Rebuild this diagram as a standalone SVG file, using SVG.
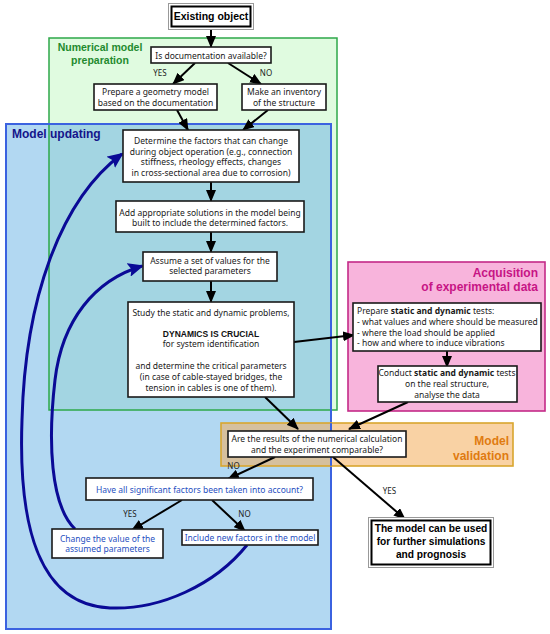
<svg xmlns="http://www.w3.org/2000/svg" width="550" height="634" viewBox="0 0 550 634">
<style>
.t{font-family:"Noto Sans","Open Sans",sans-serif;font-size:8.5px;fill:#1a1a1a;text-anchor:middle}
.tl{text-anchor:start}
.bl{fill:#1f4fbf}
.lab{font-family:"Noto Sans","Open Sans",sans-serif;font-size:8px;fill:#222;text-anchor:middle}
.hb{font-family:"Liberation Sans",Arial,sans-serif;font-weight:bold}
.box{fill:#fff;stroke:#1a1a1a;stroke-width:1.6}
.con{fill:none;stroke:#000;stroke-width:2}
.loop{fill:none;stroke:#0a0a96;stroke-width:3}
</style>
<defs>
<marker id="ah" viewBox="0 0 12 10" refX="11" refY="5" markerWidth="12" markerHeight="10" markerUnits="userSpaceOnUse" orient="auto">
<path d="M0,0 L12,5 L0,10 z" fill="#000"/>
</marker>
<marker id="bh" viewBox="0 0 16 14" refX="14" refY="7" markerWidth="16" markerHeight="14" markerUnits="userSpaceOnUse" orient="auto">
<path d="M0,0 L16,7 L0,14 L3,7 z" fill="#0a0a96"/>
</marker>
</defs>

<g id="regions">
<rect x="49" y="38" width="288" height="372" fill="#e0fbe0"/>
<rect x="6" y="124" width="325" height="505" fill="#b2d8f2"/>
<rect x="49" y="124" width="282" height="286" fill="#a3d5e2"/>
<rect x="221" y="423" width="292" height="43" fill="#f9d2a4"/>
<rect x="221" y="423" width="110" height="43" fill="#d6c09e"/>
<rect x="348" y="262" width="197" height="149" fill="#f8b4dc" stroke="#c42a88" stroke-width="1.6"/>
<rect x="49" y="38" width="288" height="372" fill="none" stroke="#2ea84a" stroke-width="1.5"/>
<rect x="6" y="124" width="325" height="505" fill="none" stroke="#3b62e0" stroke-width="2"/>
<rect x="221" y="423" width="292" height="43" fill="none" stroke="#d9a62e" stroke-width="1.6"/>
<line x1="331" y1="423" x2="331" y2="466" stroke="#3b62e0" stroke-width="1.5"/>
<text class="hb" x="100" y="51" font-size="10.5" fill="#238a2e" text-anchor="middle">Numerical model</text>
<text class="hb" x="100" y="64" font-size="10.5" fill="#238a2e" text-anchor="middle">preparation</text>
<text class="hb" x="12" y="138" font-size="12" fill="#14148a">Model updating</text>
<text class="hb" x="538" y="277" font-size="12" fill="#c71585" text-anchor="end">Acquisition</text>
<text class="hb" x="538" y="291" font-size="12" fill="#c71585" text-anchor="end">of experimental data</text>
<text class="hb" x="509" y="445" font-size="12" fill="#e07b10" text-anchor="end">Model</text>
<text class="hb" x="509" y="460" font-size="12" fill="#e07b10" text-anchor="end">validation</text>
</g>

<g id="connectors">
<line class="con" x1="211" y1="29" x2="211" y2="47" marker-end="url(#ah)"/>
<line class="con" x1="195" y1="63" x2="173" y2="84" marker-end="url(#ah)"/>
<line class="con" x1="228" y1="63" x2="261" y2="84" marker-end="url(#ah)"/>
<line class="con" x1="177" y1="110" x2="188" y2="130" marker-end="url(#ah)"/>
<line class="con" x1="268" y1="110" x2="243" y2="130" marker-end="url(#ah)"/>
<line class="con" x1="211" y1="182" x2="211" y2="201" marker-end="url(#ah)"/>
<line class="con" x1="211" y1="232" x2="211" y2="252" marker-end="url(#ah)"/>
<line class="con" x1="211" y1="281" x2="211" y2="302" marker-end="url(#ah)"/>
<line class="con" x1="294" y1="342" x2="354" y2="335" marker-end="url(#ah)"/>
<line class="con" x1="447" y1="351" x2="447" y2="367" marker-end="url(#ah)"/>
<line class="con" x1="265" y1="397" x2="298" y2="429" marker-end="url(#ah)"/>
<line class="con" x1="408" y1="402" x2="349" y2="429" marker-end="url(#ah)"/>
<line class="con" x1="275" y1="457" x2="228" y2="479" marker-end="url(#ah)"/>
<line class="con" x1="333" y1="457" x2="405" y2="519" marker-end="url(#ah)"/>
<line class="con" x1="182" y1="500" x2="132" y2="530" marker-end="url(#ah)"/>
<line class="con" x1="212" y1="500" x2="245" y2="531" marker-end="url(#ah)"/>
<path class="loop" d="M247,545 C215,585 160,610 110,608 C40,605 18,530 22,420 C25,300 60,200 122,154" marker-end="url(#bh)"/>
<path class="loop" d="M75,529 C50,505 48,440 55,380 C62,320 95,280 142,266" marker-end="url(#bh)"/>
<text class="lab" x="160" y="76">YES</text>
<text class="lab" x="266" y="76">NO</text>
<text class="lab" x="233.5" y="468.5">NO</text>
<text class="lab" x="130" y="516.5">YES</text>
<text class="lab" x="244.5" y="516.5">NO</text>
<text class="lab" x="389.5" y="493.5">YES</text>
</g>

<g id="existing">
<rect x="168.5" y="3.5" width="85" height="26" fill="#fff" stroke="#999" stroke-width="1"/>
<rect x="171.5" y="6.5" width="79" height="20" fill="#fff" stroke="#000" stroke-width="2"/>
<text class="hb" x="211" y="20" font-size="10.5" text-anchor="middle" fill="#000">Existing object</text>
</g>

<g id="doc">
<rect class="box" x="151" y="47" width="120" height="16"/>
<text class="t" x="211" y="58.5">Is documentation available?</text>
</g>

<g id="geom">
<rect class="box" x="94" y="84" width="123" height="26"/>
<text class="t" x="155.5" y="95">Prepare a geometry model</text>
<text class="t" x="155.5" y="105.5">based on the documentation</text>
</g>

<g id="inventory">
<rect class="box" x="242" y="84" width="84" height="26"/>
<text class="t" x="284" y="95">Make an inventory</text>
<text class="t" x="284" y="105.5">of the structure</text>
</g>

<g id="determine">
<rect class="box" x="123" y="130" width="176" height="52"/>
<text class="t" x="211" y="144">Determine the factors that can change</text>
<text class="t" x="211" y="154.5">during object operation (e.g., connection</text>
<text class="t" x="211" y="165">stiffness, rheology effects, changes</text>
<text class="t" x="211" y="175.5">in cross-sectional area due to corrosion)</text>
</g>

<g id="add">
<rect class="box" x="116" y="201" width="188" height="31"/>
<text class="t" x="210" y="215.5">Add appropriate solutions in the model being</text>
<text class="t" x="210" y="226">built to include the determined factors.</text>
</g>

<g id="assume">
<rect class="box" x="143" y="252" width="134" height="29"/>
<text class="t" x="210" y="263.5">Assume a set of values for the</text>
<text class="t" x="210" y="274">selected parameters</text>
</g>

<g id="study">
<rect class="box" x="128" y="302" width="166" height="95"/>
<text class="t" x="211" y="315.8">Study the static and dynamic problems,</text>
<text class="hb" x="211" y="336.5" font-size="8.5" text-anchor="middle" fill="#111">DYNAMICS IS CRUCIAL</text>
<text class="t" x="211" y="346.8">for system identification</text>
<text class="t" x="211" y="369.2">and determine the critical parameters</text>
<text class="t" x="211" y="380.2">(in case of cable-stayed bridges, the</text>
<text class="t" x="211" y="390.8">tension in cables is one of them).</text>
</g>

<g id="prepare-tests">
<rect class="box" x="353" y="303" width="188" height="48"/>
<text class="t tl" x="357" y="313.5">Prepare <tspan font-weight="bold">static and dynamic</tspan> tests:</text>
<text class="t tl" x="357" y="325">- what values and where should be measured</text>
<text class="t tl" x="357" y="335.5">- where the load should be applied</text>
<text class="t tl" x="357" y="346">- how and where to induce vibrations</text>
</g>

<g id="conduct">
<rect class="box" x="378" y="366" width="139" height="36"/>
<text class="t" x="447" y="376">Conduct <tspan font-weight="bold">static and dynamic</tspan> tests</text>
<text class="t" x="447" y="386.8">on the real structure,</text>
<text class="t" x="447" y="397.5">analyse the data</text>
</g>

<g id="compare">
<rect class="box" x="228" y="431" width="178" height="26"/>
<text class="t" x="317" y="441.5">Are the results of the numerical calculation</text>
<text class="t" x="317" y="452.5">and the experiment comparable?</text>
</g>

<g id="all-factors">
<rect class="box" x="86" y="478" width="227" height="22"/>
<text class="t bl" x="199.5" y="492.5">Have all significant factors been taken into account?</text>
</g>

<g id="change">
<rect class="box" x="52" y="529" width="111" height="29"/>
<text class="t bl" x="107.5" y="541.5">Change the value of the</text>
<text class="t bl" x="107.5" y="552">assumed parameters</text>
</g>

<g id="include">
<rect class="box" x="182" y="530" width="136" height="15"/>
<text class="t bl" x="250" y="540.5">Include new factors in the model</text>
</g>

<g id="final">
<rect x="368.5" y="517.5" width="125" height="50" fill="#fff" stroke="#999" stroke-width="1"/>
<rect x="371.5" y="520.5" width="119" height="44" fill="#fff" stroke="#000" stroke-width="2"/>
<text class="hb" x="431" y="532" font-size="10.2" text-anchor="middle" fill="#000">The model can be used</text>
<text class="hb" x="431" y="545" font-size="10.2" text-anchor="middle" fill="#000">for further simulations</text>
<text class="hb" x="431" y="558" font-size="10.2" text-anchor="middle" fill="#000">and prognosis</text>
</g>
</svg>
